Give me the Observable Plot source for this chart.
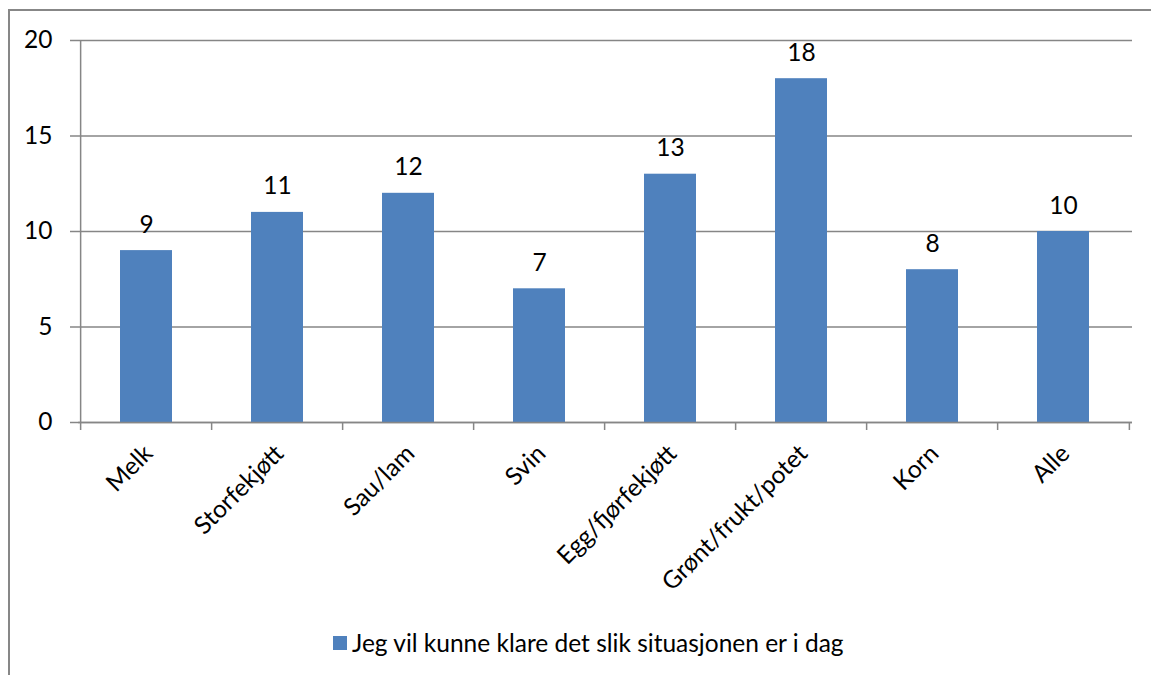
<!DOCTYPE html>
<html><head><meta charset="utf-8">
<script src="https://cdn.jsdelivr.net/npm/d3@7"></script>
<script src="https://cdn.jsdelivr.net/npm/@observablehq/plot@0.6"></script>
<style>
body{margin:0;overflow:hidden;background:#fff;}
#wrap{position:relative;width:1151px;height:675px;overflow:hidden;font-family:Lato,sans-serif;background:#fff;}
#frame{position:absolute;left:8px;top:9px;width:1300px;height:800px;border-left:2px solid #878787;border-top:2px solid #878787;}
#chart{position:absolute;left:0;top:0;}
#legend{position:absolute;top:628px;left:333px;display:flex;align-items:center;font-size:24.5px;color:#000;white-space:nowrap;}
#legend .sw{width:14px;height:14px;background:#4F81BD;margin-right:5px;}
</style></head>
<body>
<div id="wrap"><div id="frame"></div><div id="chart"></div><div id="legend"></div></div>
<script>
const categories = ["Melk","Storfekjøtt","Sau/lam","Svin","Egg/fjørfekjøtt","Grønt/frukt/potet","Korn","Alle"];
const values = [9,11,12,7,13,18,8,10];
const yTicks = [0,5,10,15,20];
const seriesName = "Jeg vil kunne klare det slik situasjonen er i dag";
const barColor = "#4F81BD";
const gridColor = "#868686";

const data = categories.map((c,i)=>({category:c, value:values[i]}));
const W = 1151, H = 610, mL = 78, mR = 19;
const half = (W - mL - mR) / categories.length / 2;
const FS = 24.5;

const chart = Plot.plot({
  width: W, height: H,
  marginLeft: mL, marginRight: mR, marginTop: 40, marginBottom: 188,
  style: {fontFamily: "Lato, sans-serif", fontSize: FS + "px", color: "#000", background: "transparent", overflow: "visible"},
  x: {domain: categories, paddingInner: 0.6, paddingOuter: 0.3, label: null},
  y: {domain: [0, 20], label: null},
  marks: [
    Plot.ruleY(yTicks, {stroke: gridColor, strokeWidth: 1.5}),
    Plot.barY(data, {x: "category", y: "value", fill: barColor}),
    Plot.ruleX(categories, {x: d => d, dx: -half, y1: -0.42, y2: d => d === categories[0] ? 20 : 0, stroke: gridColor, strokeWidth: 1.5}),
    Plot.ruleX([categories[categories.length-1]], {x: d => d, dx: half, y1: -0.42, y2: 0, stroke: gridColor, strokeWidth: 1.5}),
    Plot.ruleY([0], {stroke: gridColor, strokeWidth: 1.5}),
    Plot.axisY({ticks: yTicks, tickSize: 8, tickPadding: 18, stroke: gridColor, strokeWidth: 1.5, strokeOpacity: 1, fontSize: FS, fill: "#000", label: null}),
    Plot.axisX({tickSize: 0, tickRotate: -45, tickPadding: 27, dx: 2, fontSize: FS, fill: "#000", label: null}),
    Plot.text(data, {x: "category", y: "value", text: d => String(d.value), lineAnchor: "bottom", dy: -18, fontSize: FS, fill: "#000"})
  ]
});
document.getElementById("chart").appendChild(chart);
const lg = document.getElementById("legend");
lg.innerHTML = '<div class="sw"></div><span></span>';
lg.querySelector("span").textContent = seriesName;
</script>
</body></html>
